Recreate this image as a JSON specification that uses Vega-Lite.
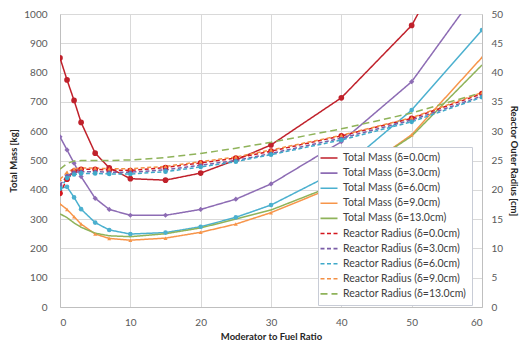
{
  "$schema": "https://vega.github.io/schema/vega-lite/v6.json",
  "width": 422,
  "height": 293,
  "autosize": {"type": "none"},
  "padding": {"left": 60, "top": 14, "right": 40, "bottom": 33},
  "config": {
    "font": "Lato",
    "view": {"stroke": null},
    "axis": {
      "gridColor": "#d9d9d9",
      "domainColor": "#bfbfbf",
      "ticks": false,
      "labelColor": "#595959",
      "labelFontSize": 10,
      "titleFontSize": 9.5,
      "titleFontWeight": "bold",
      "titleColor": "#262626"
    }
  },
  "datasets": {
    "mass": [
      {"x":0,"s":"Total Mass (δ=0.0cm)","d":"0","v":850},{"x":1,"s":"Total Mass (δ=0.0cm)","d":"0","v":775},{"x":2,"s":"Total Mass (δ=0.0cm)","d":"0","v":705},{"x":3,"s":"Total Mass (δ=0.0cm)","d":"0","v":630},{"x":5,"s":"Total Mass (δ=0.0cm)","d":"0","v":525},{"x":7,"s":"Total Mass (δ=0.0cm)","d":"0","v":475},{"x":10,"s":"Total Mass (δ=0.0cm)","d":"0","v":438},{"x":15,"s":"Total Mass (δ=0.0cm)","d":"0","v":433},{"x":20,"s":"Total Mass (δ=0.0cm)","d":"0","v":457},{"x":25,"s":"Total Mass (δ=0.0cm)","d":"0","v":502},{"x":30,"s":"Total Mass (δ=0.0cm)","d":"0","v":553},{"x":40,"s":"Total Mass (δ=0.0cm)","d":"0","v":714},{"x":50,"s":"Total Mass (δ=0.0cm)","d":"0","v":961},{"x":60,"s":"Total Mass (δ=0.0cm)","d":"0","v":1400},
      {"x":0,"s":"Total Mass (δ=3.0cm)","d":"3","v":581},{"x":1,"s":"Total Mass (δ=3.0cm)","d":"3","v":536},{"x":2,"s":"Total Mass (δ=3.0cm)","d":"3","v":491},{"x":3,"s":"Total Mass (δ=3.0cm)","d":"3","v":445},{"x":5,"s":"Total Mass (δ=3.0cm)","d":"3","v":371},{"x":7,"s":"Total Mass (δ=3.0cm)","d":"3","v":333},{"x":10,"s":"Total Mass (δ=3.0cm)","d":"3","v":313},{"x":15,"s":"Total Mass (δ=3.0cm)","d":"3","v":313},{"x":20,"s":"Total Mass (δ=3.0cm)","d":"3","v":333},{"x":25,"s":"Total Mass (δ=3.0cm)","d":"3","v":368},{"x":30,"s":"Total Mass (δ=3.0cm)","d":"3","v":420},{"x":40,"s":"Total Mass (δ=3.0cm)","d":"3","v":564},{"x":50,"s":"Total Mass (δ=3.0cm)","d":"3","v":769},{"x":60,"s":"Total Mass (δ=3.0cm)","d":"3","v":1100},
      {"x":0,"s":"Total Mass (δ=6.0cm)","d":"6","v":405},{"x":1,"s":"Total Mass (δ=6.0cm)","d":"6","v":410},{"x":2,"s":"Total Mass (δ=6.0cm)","d":"6","v":374},{"x":3,"s":"Total Mass (δ=6.0cm)","d":"6","v":334},{"x":5,"s":"Total Mass (δ=6.0cm)","d":"6","v":288},{"x":7,"s":"Total Mass (δ=6.0cm)","d":"6","v":263},{"x":10,"s":"Total Mass (δ=6.0cm)","d":"6","v":249},{"x":15,"s":"Total Mass (δ=6.0cm)","d":"6","v":254},{"x":20,"s":"Total Mass (δ=6.0cm)","d":"6","v":274},{"x":25,"s":"Total Mass (δ=6.0cm)","d":"6","v":306},{"x":30,"s":"Total Mass (δ=6.0cm)","d":"6","v":348},{"x":40,"s":"Total Mass (δ=6.0cm)","d":"6","v":470},{"x":50,"s":"Total Mass (δ=6.0cm)","d":"6","v":672},{"x":60,"s":"Total Mass (δ=6.0cm)","d":"6","v":945},
      {"x":0,"s":"Total Mass (δ=9.0cm)","d":"9","v":352},{"x":1,"s":"Total Mass (δ=9.0cm)","d":"9","v":333},{"x":2,"s":"Total Mass (δ=9.0cm)","d":"9","v":308},{"x":3,"s":"Total Mass (δ=9.0cm)","d":"9","v":283},{"x":5,"s":"Total Mass (δ=9.0cm)","d":"9","v":249},{"x":7,"s":"Total Mass (δ=9.0cm)","d":"9","v":234},{"x":10,"s":"Total Mass (δ=9.0cm)","d":"9","v":228},{"x":15,"s":"Total Mass (δ=9.0cm)","d":"9","v":235},{"x":20,"s":"Total Mass (δ=9.0cm)","d":"9","v":255},{"x":25,"s":"Total Mass (δ=9.0cm)","d":"9","v":283},{"x":30,"s":"Total Mass (δ=9.0cm)","d":"9","v":322},{"x":40,"s":"Total Mass (δ=9.0cm)","d":"9","v":420},{"x":50,"s":"Total Mass (δ=9.0cm)","d":"9","v":588},{"x":60,"s":"Total Mass (δ=9.0cm)","d":"9","v":852},
      {"x":0,"s":"Total Mass (δ=13.0cm)","d":"13","v":318},{"x":1,"s":"Total Mass (δ=13.0cm)","d":"13","v":305},{"x":2,"s":"Total Mass (δ=13.0cm)","d":"13","v":287},{"x":3,"s":"Total Mass (δ=13.0cm)","d":"13","v":272},{"x":5,"s":"Total Mass (δ=13.0cm)","d":"13","v":252},{"x":7,"s":"Total Mass (δ=13.0cm)","d":"13","v":243},{"x":10,"s":"Total Mass (δ=13.0cm)","d":"13","v":240},{"x":15,"s":"Total Mass (δ=13.0cm)","d":"13","v":250},{"x":20,"s":"Total Mass (δ=13.0cm)","d":"13","v":270},{"x":25,"s":"Total Mass (δ=13.0cm)","d":"13","v":300},{"x":30,"s":"Total Mass (δ=13.0cm)","d":"13","v":331},{"x":40,"s":"Total Mass (δ=13.0cm)","d":"13","v":425},{"x":50,"s":"Total Mass (δ=13.0cm)","d":"13","v":583},{"x":60,"s":"Total Mass (δ=13.0cm)","d":"13","v":826}
    ],
    "radius": [
      {"x":0,"s":"Reactor Radius (δ=0.0cm)","d":"0","v":19.4},{"x":1,"s":"Reactor Radius (δ=0.0cm)","d":"0","v":21.8},{"x":2,"s":"Reactor Radius (δ=0.0cm)","d":"0","v":23.2},{"x":3,"s":"Reactor Radius (δ=0.0cm)","d":"0","v":23.5},{"x":5,"s":"Reactor Radius (δ=0.0cm)","d":"0","v":23.5},{"x":7,"s":"Reactor Radius (δ=0.0cm)","d":"0","v":23.4},{"x":10,"s":"Reactor Radius (δ=0.0cm)","d":"0","v":23.3},{"x":15,"s":"Reactor Radius (δ=0.0cm)","d":"0","v":23.8},{"x":20,"s":"Reactor Radius (δ=0.0cm)","d":"0","v":24.6},{"x":25,"s":"Reactor Radius (δ=0.0cm)","d":"0","v":25.4},{"x":30,"s":"Reactor Radius (δ=0.0cm)","d":"0","v":26.6},{"x":40,"s":"Reactor Radius (δ=0.0cm)","d":"0","v":29.2},{"x":50,"s":"Reactor Radius (δ=0.0cm)","d":"0","v":32.2},{"x":60,"s":"Reactor Radius (δ=0.0cm)","d":"0","v":36.4},
      {"x":0,"s":"Reactor Radius (δ=3.0cm)","d":"3","v":20.8},{"x":1,"s":"Reactor Radius (δ=3.0cm)","d":"3","v":22.4},{"x":2,"s":"Reactor Radius (δ=3.0cm)","d":"3","v":23.0},{"x":3,"s":"Reactor Radius (δ=3.0cm)","d":"3","v":23.1},{"x":5,"s":"Reactor Radius (δ=3.0cm)","d":"3","v":23.1},{"x":7,"s":"Reactor Radius (δ=3.0cm)","d":"3","v":23.0},{"x":10,"s":"Reactor Radius (δ=3.0cm)","d":"3","v":23.0},{"x":15,"s":"Reactor Radius (δ=3.0cm)","d":"3","v":23.4},{"x":20,"s":"Reactor Radius (δ=3.0cm)","d":"3","v":24.2},{"x":25,"s":"Reactor Radius (δ=3.0cm)","d":"3","v":25.0},{"x":30,"s":"Reactor Radius (δ=3.0cm)","d":"3","v":26.2},{"x":40,"s":"Reactor Radius (δ=3.0cm)","d":"3","v":28.8},{"x":50,"s":"Reactor Radius (δ=3.0cm)","d":"3","v":31.9},{"x":60,"s":"Reactor Radius (δ=3.0cm)","d":"3","v":36.0},
      {"x":0,"s":"Reactor Radius (δ=6.0cm)","d":"6","v":20.2},{"x":1,"s":"Reactor Radius (δ=6.0cm)","d":"6","v":22.0},{"x":2,"s":"Reactor Radius (δ=6.0cm)","d":"6","v":22.6},{"x":3,"s":"Reactor Radius (δ=6.0cm)","d":"6","v":22.8},{"x":5,"s":"Reactor Radius (δ=6.0cm)","d":"6","v":22.8},{"x":7,"s":"Reactor Radius (δ=6.0cm)","d":"6","v":22.7},{"x":10,"s":"Reactor Radius (δ=6.0cm)","d":"6","v":22.7},{"x":15,"s":"Reactor Radius (δ=6.0cm)","d":"6","v":23.1},{"x":20,"s":"Reactor Radius (δ=6.0cm)","d":"6","v":23.9},{"x":25,"s":"Reactor Radius (δ=6.0cm)","d":"6","v":24.8},{"x":30,"s":"Reactor Radius (δ=6.0cm)","d":"6","v":26.0},{"x":40,"s":"Reactor Radius (δ=6.0cm)","d":"6","v":28.5},{"x":50,"s":"Reactor Radius (δ=6.0cm)","d":"6","v":31.6},{"x":60,"s":"Reactor Radius (δ=6.0cm)","d":"6","v":35.8},
      {"x":0,"s":"Reactor Radius (δ=9.0cm)","d":"9","v":21.8},{"x":1,"s":"Reactor Radius (δ=9.0cm)","d":"9","v":23.0},{"x":2,"s":"Reactor Radius (δ=9.0cm)","d":"9","v":23.6},{"x":3,"s":"Reactor Radius (δ=9.0cm)","d":"9","v":23.7},{"x":5,"s":"Reactor Radius (δ=9.0cm)","d":"9","v":23.7},{"x":7,"s":"Reactor Radius (δ=9.0cm)","d":"9","v":23.6},{"x":10,"s":"Reactor Radius (δ=9.0cm)","d":"9","v":23.6},{"x":15,"s":"Reactor Radius (δ=9.0cm)","d":"9","v":24.0},{"x":20,"s":"Reactor Radius (δ=9.0cm)","d":"9","v":24.8},{"x":25,"s":"Reactor Radius (δ=9.0cm)","d":"9","v":25.6},{"x":30,"s":"Reactor Radius (δ=9.0cm)","d":"9","v":26.8},{"x":40,"s":"Reactor Radius (δ=9.0cm)","d":"9","v":29.3},{"x":50,"s":"Reactor Radius (δ=9.0cm)","d":"9","v":32.3},{"x":60,"s":"Reactor Radius (δ=9.0cm)","d":"9","v":36.6},
      {"x":0,"s":"Reactor Radius (δ=13.0cm)","d":"13","v":23.5},{"x":1,"s":"Reactor Radius (δ=13.0cm)","d":"13","v":24.5},{"x":2,"s":"Reactor Radius (δ=13.0cm)","d":"13","v":24.9},{"x":3,"s":"Reactor Radius (δ=13.0cm)","d":"13","v":25.0},{"x":5,"s":"Reactor Radius (δ=13.0cm)","d":"13","v":25.0},{"x":7,"s":"Reactor Radius (δ=13.0cm)","d":"13","v":25.0},{"x":10,"s":"Reactor Radius (δ=13.0cm)","d":"13","v":25.1},{"x":15,"s":"Reactor Radius (δ=13.0cm)","d":"13","v":25.5},{"x":20,"s":"Reactor Radius (δ=13.0cm)","d":"13","v":26.2},{"x":25,"s":"Reactor Radius (δ=13.0cm)","d":"13","v":27.1},{"x":30,"s":"Reactor Radius (δ=13.0cm)","d":"13","v":28.1},{"x":40,"s":"Reactor Radius (δ=13.0cm)","d":"13","v":30.4},{"x":50,"s":"Reactor Radius (δ=13.0cm)","d":"13","v":33.1},{"x":60,"s":"Reactor Radius (δ=13.0cm)","d":"13","v":36.6}
    ]
  },
  "encoding": {
    "x": {
      "field": "x", "type": "quantitative",
      "scale": {"domain": [0, 60], "nice": false},
      "axis": {"values": [0,10,20,30,40,50,60], "title": "Moderator to Fuel Ratio", "labelPadding": 10, "titlePadding": 4, "grid": true}
    },
    "color": {
      "field": "s", "type": "nominal",
      "scale": {
        "domain": ["Total Mass (δ=0.0cm)","Total Mass (δ=3.0cm)","Total Mass (δ=6.0cm)","Total Mass (δ=9.0cm)","Total Mass (δ=13.0cm)","Reactor Radius (δ=0.0cm)","Reactor Radius (δ=3.0cm)","Reactor Radius (δ=6.0cm)","Reactor Radius (δ=9.0cm)","Reactor Radius (δ=13.0cm)"],
        "range": ["#c0212b","#8d6cb4","#4bb0cf","#f7954a","#8fb35a","#d4161e","#7b5ea7","#3fa9c9","#f39045","#8fb35a"]
      },
      "legend": {
        "title": null, "orient": "none", "legendX": 258, "legendY": 133,
        "symbolType": "M-1.7,0L1.7,0", "symbolSize": 100, "symbolStrokeWidth": 1.6,
        "labelFontSize": 10.5, "labelColor": "#404040", "labelFont": "Lato", "rowPadding": 3.1,
        "fillColor": "#ffffff", "strokeColor": "#c8ccd6", "padding": 5, "labelOffset": 8,
        "offset": 0
      }
    },
    "strokeDash": {
      "field": "s", "type": "nominal",
      "scale": {
        "domain": ["Total Mass (δ=0.0cm)","Total Mass (δ=3.0cm)","Total Mass (δ=6.0cm)","Total Mass (δ=9.0cm)","Total Mass (δ=13.0cm)","Reactor Radius (δ=0.0cm)","Reactor Radius (δ=3.0cm)","Reactor Radius (δ=6.0cm)","Reactor Radius (δ=9.0cm)","Reactor Radius (δ=13.0cm)"],
        "range": [[1,0],[1,0],[1,0],[1,0],[1,0],[4,2.5],[4,2.5],[4,2.5],[4,2.5],[7,4]]
      },
      "legend": null
    }
  },
  "layer": [
    {
      "data": {"name": "mass"},
      "encoding": {
        "y": {
          "field": "v", "type": "quantitative",
          "scale": {"domain": [0, 1000], "nice": false},
          "axis": {"values": [0,100,200,300,400,500,600,700,800,900,1000], "format": "d", "title": "Total Mass [kg]", "labelPadding": 13, "titlePadding": 5, "grid": true}
        }
      },
      "layer": [
        {"mark": {"type": "line", "strokeWidth": 1.5, "clip": true}},
        {
          "transform": [{"filter": "datum.d != '13'"}],
          "mark": {"type": "point", "filled": true, "opacity": 1, "clip": true},
          "encoding": {
            "shape": {"field": "d", "type": "nominal", "scale": {"domain": ["0","3","6","9"], "range": ["circle","diamond","circle","triangle-up"]}, "legend": null},
            "size": {"field": "d", "type": "nominal", "scale": {"domain": ["0","3","6","9"], "range": [32,16,16,18]}, "legend": null}
          }
        }
      ]
    },
    {
      "data": {"name": "radius"},
      "encoding": {
        "y": {
          "field": "v", "type": "quantitative",
          "scale": {"domain": [0, 50], "nice": false},
          "axis": {"orient": "right", "values": [0,5,10,15,20,25,30,35,40,45,50], "title": "Reactor Outer Radius [cm]", "labelPadding": 9, "titlePadding": 6, "grid": false}
        }
      },
      "layer": [
        {"mark": {"type": "line", "strokeWidth": 1.5, "clip": true}},
        {
          "transform": [{"filter": "datum.d != '13'"}],
          "mark": {"type": "point", "filled": true, "opacity": 1, "clip": true},
          "encoding": {
            "shape": {"field": "d", "type": "nominal", "scale": {"domain": ["0","3","6","9"], "range": ["circle","diamond","circle","triangle-up"]}, "legend": null},
            "size": {"field": "d", "type": "nominal", "scale": {"domain": ["0","3","6","9"], "range": [32,16,16,18]}, "legend": null}
          }
        }
      ]
    }
  ],
  "resolve": {"scale": {"y": "independent"}, "axis": {"y": "independent"}}
}
